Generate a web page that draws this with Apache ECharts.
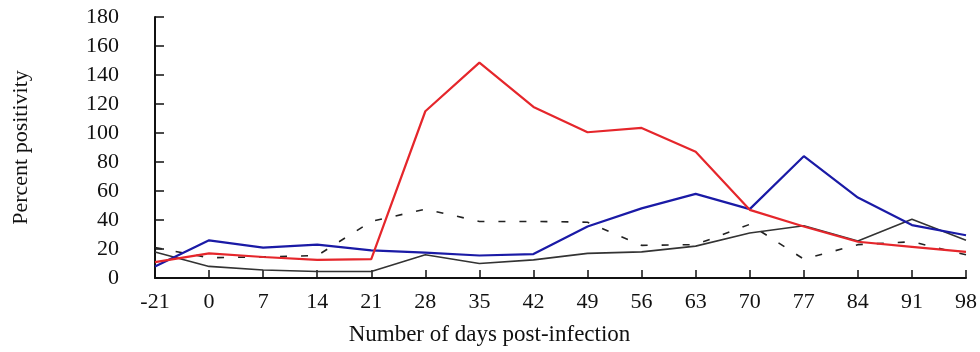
<!DOCTYPE html>
<html>
<head>
<meta charset="utf-8">
<script src="https://cdn.jsdelivr.net/npm/echarts@6/dist/echarts.min.js"></script>
<style>html,body{margin:0;padding:0;background:#fff}#c{width:980px;height:352px}</style>
</head>
<body>
<div id="c"></div>
<script>
var days = ['-21','0','7','14','21','28','35','42','49','56','63','70','77','84','91','98'];
var redSeries   = [11, 17, 14.5, 12.5, 13, 115, 148.5, 118, 100.5, 103.5, 87, 47, 35.5, 25, 21.5, 18];
var blueSeries  = [8, 26, 21, 23, 19, 17.5, 15.5, 16.5, 35.5, 48, 58, 47.5, 84, 55.5, 36.5, 29.5];
var blackSeries = [18, 8, 5.5, 4.5, 4.5, 16, 10, 12.5, 17, 18, 22, 31, 36, 25.5, 40.5, 26];
var dashSeries  = [21, 14, 14.5, 15.5, 39, 47.5, 39, 39, 38.5, 22.5, 23, 37, 13, 23, 25, 16];
var yTicks = {min: 0, max: 180, interval: 20};
var font = '"Liberation Serif", "DejaVu Serif", serif';

var chart = echarts.init(document.getElementById('c'), null, {renderer: 'canvas'});
function line(data, color, width, type) {
  return {type: 'line', data: data, symbol: 'none', animation: false,
    lineStyle: {color: color, width: width, type: type || 'solid'}};
}
chart.setOption({
  animation: false,
  grid: {left: 155, right: 12, top: 17, bottom: 74, containLabel: false},
  xAxis: {
    type: 'category', data: days, boundaryGap: false,
    name: 'Number of days post-infection', nameLocation: 'middle', nameGap: 45,
    nameTextStyle: {fontFamily: font, fontSize: 23, color: '#111', padding: [0, 142, 0, 0]},
    axisLine: {lineStyle: {color: '#111', width: 2}},
    axisTick: {inside: true, length: 8, alignWithLabel: true, lineStyle: {color: '#111', width: 1.5}},
    axisLabel: {fontFamily: font, fontSize: 22, color: '#111', margin: 13, interval: 0},
    splitLine: {show: false}
  },
  yAxis: {
    type: 'value', min: yTicks.min, max: yTicks.max, interval: yTicks.interval,
    name: 'Percent positivity', nameLocation: 'middle', nameGap: 123, nameRotate: 90,
    nameTextStyle: {fontFamily: font, fontSize: 22, color: '#111'},
    axisLine: {show: true, lineStyle: {color: '#111', width: 2}},
    axisTick: {show: true, inside: true, length: 9, lineStyle: {color: '#111', width: 1.5}},
    axisLabel: {fontFamily: font, fontSize: 22, color: '#111', margin: 36},
    splitLine: {show: false}
  },
  series: [
    line(dashSeries, '#222', 1.6, [7, 14]),
    line(blackSeries, '#333', 1.6),
    line(blueSeries, '#1a1aa6', 2.2),
    line(redSeries, '#e5262b', 2.2)
  ]
});
</script>
</body>
</html>
